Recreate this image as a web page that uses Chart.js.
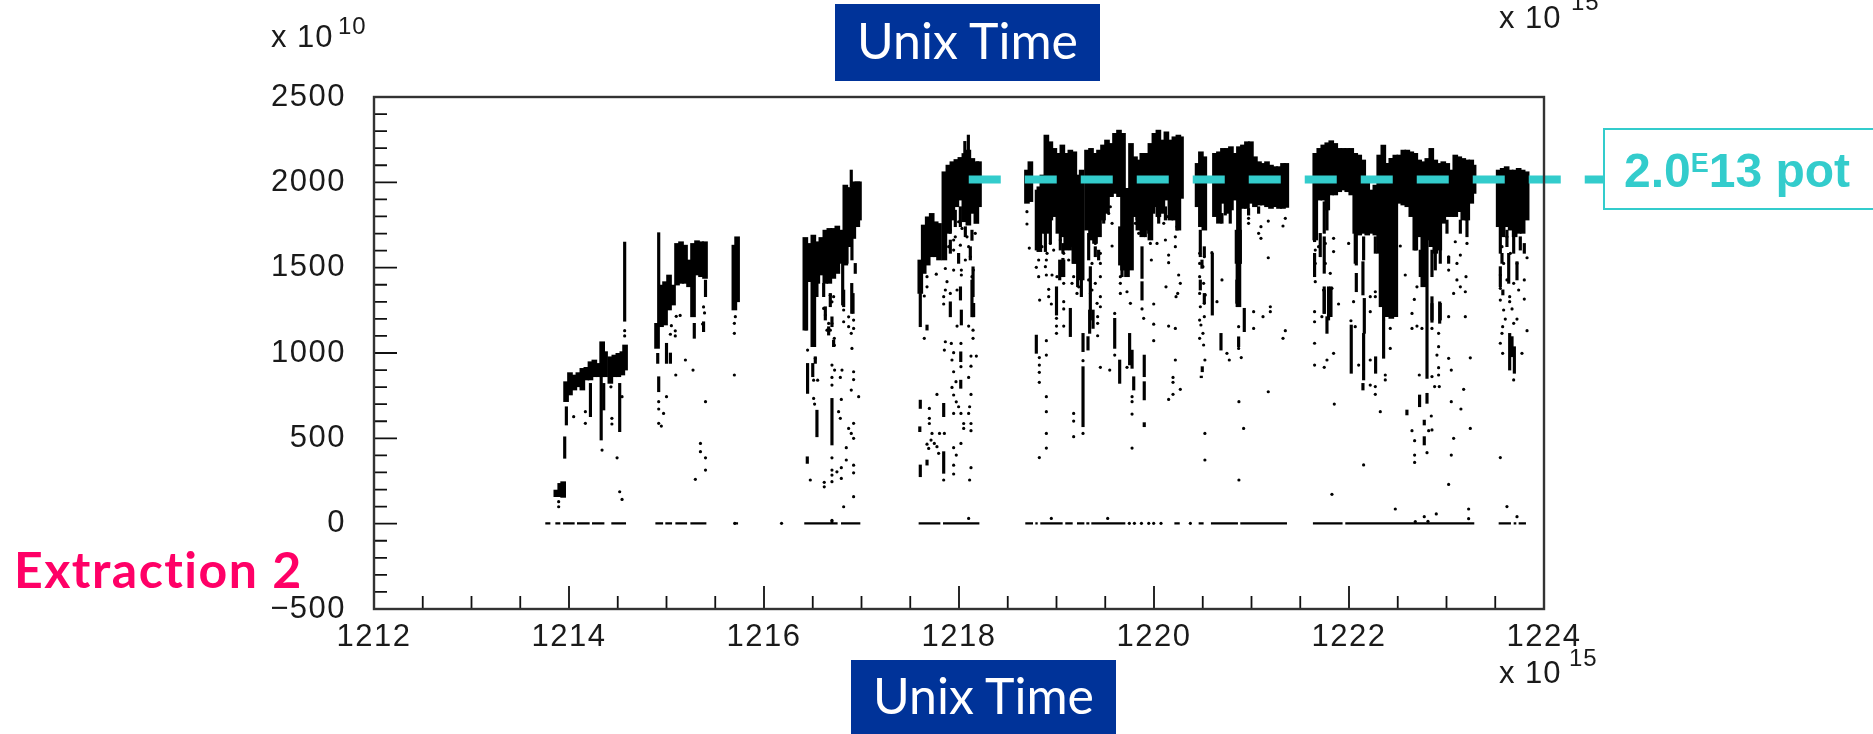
<!DOCTYPE html>
<html>
<head>
<meta charset="utf-8">
<title>Extraction 2</title>
<script src="https://cdn.jsdelivr.net/npm/chart.js@4"></script>
<style>
html, body { margin: 0; padding: 0; background: #fff; }
#page { position: relative; width: 1873px; height: 734px; overflow: hidden; }
#page canvas { position: absolute; left: 0; top: 0; }
.lbl { position: absolute; white-space: nowrap; line-height: 1; }
.power { font-family: "Liberation Sans", sans-serif; font-size: 31px; letter-spacing: 1px; color: #1a1a1a; }
.power sup { position: absolute; font-size: 24px; line-height: 1; vertical-align: baseline; }
.blue { position: absolute; background: #003399; color: #fff; font-family: Lato, sans-serif; font-size: 50px; text-align: center; }
#tag { position: absolute; left: 1603px; top: 128px; width: 268px; height: 78px; border: 2px solid #33cccc; background: #fff; color: #33cccc;
       font-family: "Liberation Sans", sans-serif; font-weight: bold; font-size: 48px; line-height: 82px; white-space: nowrap; }
#tag span { position: absolute; left: 19px; top: 0; }
#tag sup { font-size: 27px; line-height: 0; vertical-align: 15px; }
#extraction { left: 14px; top: 544px; color: #ff0066; font-family: Lato, sans-serif; font-weight: bold; font-size: 50px; letter-spacing: 1.5px; }
</style>
</head>
<body>
<div id="page">
  <canvas id="chart" width="1873" height="734"></canvas>
  <div class="blue" style="left:835px;top:4px;width:265px;height:77px;line-height:72px;">Unix Time</div>
  <div class="blue" style="left:851px;top:660px;width:265px;height:74px;line-height:70px;">Unix Time</div>
  <div class="lbl power" style="left:271px;top:21px;">x 10<sup style="left:67px;top:-7px;">10</sup></div>
  <div class="lbl power" style="left:1499px;top:2px;">x 10<sup style="left:72px;top:-12px;">15</sup></div>
  <div class="lbl power" style="left:1499px;top:657px;">x 10<sup style="left:70px;top:-11px;">15</sup></div>
  <div class="lbl" id="extraction">Extraction 2</div>
  <div id="tag"><span>2.0<sup>E</sup>13 pot</span></div>
</div>
<script>
// axis ticks
const xMajorTicks = [1212, 1214, 1216, 1218, 1220, 1222, 1224]
const xMinorTicks = [1212.5, 1213, 1213.5, 1214.5, 1215, 1215.5, 1216.5, 1217, 1217.5, 1218.5, 1219, 1219.5, 1220.5, 1221, 1221.5, 1222.5, 1223, 1223.5]
const yMajorTicks = [-500, 0, 500, 1000, 1500, 2000, 2500]
const yMinorTicks = [-400, -300, -200, -100, 100, 200, 300, 400, 600, 700, 800, 900, 1100, 1200, 1300, 1400, 1600, 1700, 1800, 1900, 2100, 2200, 2300, 2400]

// intensity reference line (x 10^15, x 10^10)
const potLevel = 2016
const potFrom = 1218.1
const potTo = 1224.63

// solid columns of the pulse intensity band: [time, low, high]
const blobA = [[1213.87,158,197],[1213.91,158,236],[1213.94,154,246],[1213.97,715,832],[1214.01,754,885],[1214.055,783,871],[1214.096,802,885],[1214.137,783,910],[1214.178,842,916],[1214.22,842,949],[1214.26,861,959],[1214.30,861,939],[1214.34,861,1066],[1214.37,861,1008],[1214.424,822,978],[1214.465,861,988],[1214.506,861,998],[1214.547,871,1008],[1214.575,900,1047]]
const blobB = [[1214.903,1027,1174],[1214.944,1154,1398],[1214.985,1164,1418],[1215.026,1252,1457],[1215.067,1281,1398],[1215.108,1398,1642],[1215.149,1408,1652],[1215.19,1408,1632],[1215.231,1388,1545],[1215.272,1212,1642],[1215.313,1457,1658],[1215.354,1447,1652],[1215.395,1437,1652]]
const blobC = [[1215.696,1252,1632],[1215.724,1300,1681]]
const blobD = [[1216.424,1134,1677],[1216.465,1418,1642],[1216.506,1037,1691],[1216.547,1408,1652],[1216.588,1457,1677],[1216.629,1408,1720],[1216.67,1408,1730],[1216.711,1437,1730],[1216.752,1466,1744],[1216.793,1525,1720],[1216.834,1515,1984],[1216.875,1623,1970],[1216.916,1671,2003],[1216.957,1740,2003],[1216.974,1779,2003]]
const blobE = [[1217.603,1349,1545],[1217.638,1466,1750],[1217.679,1515,1798],[1217.72,1564,1818],[1217.761,1564,1769],[1217.795,1545,1759],[1217.85,1545,2062],[1217.891,1701,2101],[1217.932,1779,2121],[1217.973,1857,2134],[1218.014,1896,2146],[1218.055,1769,2169],[1218.096,1749,2189],[1218.137,1818,2140],[1218.178,1759,2121],[1218.205,1857,2121]]
const blobF = [[1218.697,1877,2072],[1218.732,1887,2121],[1218.824,1594,1974],[1218.855,1701,2043],[1218.896,1701,2277],[1218.937,1779,2238],[1218.978,1799,2199],[1219.019,1701,2170],[1219.06,1681,2219],[1219.1,1603,2170],[1219.142,1623,2189],[1219.183,1525,2179],[1219.217,1525,2043],[1219.258,1428,2072],[1219.313,1720,2189],[1219.354,1662,2199],[1219.395,1642,2170],[1219.436,1681,2189],[1219.477,1779,2219],[1219.518,1818,2248],[1219.559,1916,2228],[1219.6,1935,2287],[1219.641,1916,2306],[1219.682,1486,2287],[1219.723,1447,1965],[1219.764,1486,2228],[1219.805,1799,2150],[1219.84,1720,2131],[1219.88,1681,2170],[1219.922,1720,2170],[1219.963,1662,2228],[1220.004,1857,2287],[1220.045,1799,2306],[1220.086,1818,2248],[1220.127,1896,2296],[1220.168,1779,2248],[1220.209,1779,2267],[1220.25,1720,2277],[1220.277,1906,2267]]
const blobG = [[1220.447,1857,2111],[1220.481,1740,2179],[1220.516,1720,2150],[1220.625,1799,2170],[1220.666,1760,2179],[1220.707,1877,2199],[1220.748,1818,2199],[1220.789,1838,2209],[1220.83,1896,2170],[1220.871,1525,2209],[1220.866,1271,1526],[1220.912,1847,2219],[1220.953,1847,2238],[1220.994,1877,2238],[1221.035,1857,2150],[1221.077,1867,2121],[1221.118,1867,2111],[1221.159,1857,2121],[1221.2,1847,2101],[1221.241,1857,2092],[1221.282,1847,2092],[1221.323,1847,2111],[1221.357,1853,2111]]
const blobH = [[1221.654,1662,2170],[1221.695,1896,2199],[1221.736,1896,2219],[1221.777,1838,2232],[1221.818,1926,2244],[1221.859,1926,2228],[1221.9,1945,2199],[1221.941,1955,2199],[1221.982,1945,2199],[1222.023,1926,2199],[1222.064,1701,2170],[1222.105,1691,2160],[1222.146,1701,2131],[1222.187,1691,1994],[1222.228,1701,1955],[1222.27,1691,1984],[1222.31,1584,2160],[1222.352,1271,2219],[1222.393,1213,2111],[1222.434,1203,2140],[1222.475,1213,2160],[1222.516,1877,2160],[1222.557,1867,2189],[1222.598,1857,2189],[1222.639,1799,2179],[1222.68,1603,2170],[1222.72,1681,2131],[1222.762,1388,2121],[1222.803,1662,2140],[1222.844,1623,2199],[1222.885,1584,2131],[1222.926,1603,2111],[1222.967,1760,2121],[1223.008,1799,2111],[1223.049,1799,2072],[1223.09,1799,2160],[1223.131,1828,2150],[1223.172,1779,2140],[1223.213,1779,2131],[1223.254,1877,2131],[1223.278,1935,2101]]
const blobI = [[1223.535,1740,2072],[1223.576,1681,2082],[1223.617,1740,2092],[1223.658,1720,2072],[1223.699,1681,2072],[1223.74,1701,2082],[1223.781,1701,2072],[1223.822,1779,2062]]

// thin vertical runs: [time, low, high]
const spikes = [[1213.956,383,509],[1213.973,578,685],[1214.33,490,861],[1214.356,666,822],[1214.22,627,822],[1214.52,539,822],[1214.571,1186,1650],[1214.92,1174,1705],[1214.91,939,998],[1214.92,773,861],[1215.0,939,1057],[1215.04,939,1000],[1215.285,1086,1174],[1215.38,1125,1183],[1215.4,1330,1427],
[1216.895,1974,2072],[1216.807,1281,1525],[1216.9,1232,1408],[1216.543,509,665],[1216.697,461,734],[1216.444,353,392],[1216.5,861,939],[1216.447,763,939],[1216.503,1037,1420],[1216.43,1134,1420],
[1218.096,2130,2277],[1218.06,2150,2240],[1217.603,1154,1349],[1218.024,1164,1252],[1218.015,1310,1388],[1217.911,1212,1300],[1218.133,1212,1427],[1217.843,627,705],[1217.843,295,422],[1217.603,675,724],[1217.603,275,344],[1217.598,539,568],[1217.672,1134,1164],[1218.018,949,1007],[1218.018,793,841],[1217.672,343,373],
[1218.793,1603,1955],[1218.793,998,1105],[1219.0,1222,1388],[1219.033,1428,1545],[1219.066,1480,1555],[1219.142,1096,1262],[1219.272,568,920],[1219.272,1008,1115],[1219.323,1017,1096],[1219.34,1115,1252],[1219.375,1144,1252],[1219.255,1330,1584],[1219.597,1027,1203],[1219.648,822,959],[1219.648,1515,1740],[1219.75,930,1115],[1219.775,910,1017],[1219.792,783,861],[1219.9,861,988],[1219.9,725,832],[1219.9,568,592],[1219.877,1437,1623],[1219.877,1310,1418],[1219.347,1193,1349],
[1220.598,1222,1584],[1220.687,1017,1115],[1220.926,1125,1262],[1220.868,1037,1095],[1220.844,1525,1720],[1220.885,1525,1720],[1220.85,1291,1428],[1220.495,890,920],[1220.485,855,865],
[1221.647,1652,1926],[1221.647,1447,1584],[1221.746,1232,1388],[1221.815,1213,1388],[1221.774,1115,1213],[1222.023,881,1164],[1222.075,1359,1467],[1222.075,1515,1720],[1222.143,1340,1535],[1222.157,1115,1320],[1222.15,842,1115],[1222.143,783,822],[1222.273,881,978],[1222.355,969,1193],[1222.355,1193,1447],[1222.8,851,1701],[1222.8,705,764],[1222.724,685,754],[1222.93,1174,1300],[1222.851,1180,1290],[1222.772,578,607],[1222.772,461,510],[1222.594,637,666],[1223.648,900,1115],[1223.696,881,1037],[1223.672,978,1096]]

// short dark runs in the speckled zones under the band: [time, low, high]
const shortRuns = [[1216.629,1193,1271],[1216.68,1271,1349],[1216.697,1154,1212],[1216.663,1105,1154],[1216.851,1525,1623],[1216.902,1545,1681],[1216.936,1466,1525],[1216.913,1232,1349],[1216.817,1271,1369],[1216.714,1037,1076],[1216.543,1330,1418],[1216.612,1330,1408],[1216.526,939,978],
[1217.911,1701,1779],[1217.962,1740,1837],[1218.014,1740,1857],[1218.065,1681,1740],[1218.116,1545,1623],[1218.144,1330,1505],[1218.15,1212,1291],[1217.911,1584,1662],[1217.996,1525,1584],[1218.133,1660,1720],
[1219.074,1447,1545],[1219.06,1447,1545],[1219.176,1662,1779],[1219.217,1388,1584],[1219.33,1545,1701],[1219.347,1349,1506],[1219.398,1564,1623],[1218.886,1594,1701],[1218.937,1642,1779],[1219.039,1603,1720],[1219.066,1584,1642],[1219.142,1603,1720],[1219.176,1525,1584],[1219.432,1545,1603],[1219.484,1760,1818],[1219.826,1779,1916],[1219.911,1681,1838],[1219.997,1818,1916],[1220.117,1779,1857],[1220.236,1720,1779],[1220.048,1760,1818],[1219.946,1701,1857],[1219.672,1447,1584],
[1220.475,1564,1720],[1220.492,1496,1545],[1220.516,1564,1623],[1220.475,1369,1428],[1220.516,1291,1349],[1220.731,1808,1877],[1220.782,1760,1838],[1220.697,1760,1818],[1220.97,1808,1847],[1221.073,1818,1857],
[1221.664,1720,1896],[1221.746,1701,1886],[1221.705,1564,1701],[1221.746,1467,1681],[1221.746,1232,1369],[1221.79,1193,1388],[1221.774,1720,1847],[1222.064,1525,1701],[1222.15,1545,1681],[1222.321,1271,1584],[1222.27,1584,1681],[1222.68,1603,1799],[1222.851,1447,1603],[1222.885,1486,1584],[1222.936,1525,1603],[1223.005,1701,1779],[1223.142,1701,1779],[1223.21,1681,1779],[1223.022,1525,1564],[1222.731,1447,1603],[1222.851,1193,1330],[1222.936,1193,1291],
[1223.552,1584,1740],[1223.62,1623,1720],[1223.689,1584,1681],[1223.757,1603,1681],[1223.569,1525,1584],[1223.638,1408,1584],[1223.552,1388,1506],[1223.723,1428,1535],[1223.578,1340,1370],[1223.798,1584,1642]]

// isolated pulses: [time, intensity]
const dotsEarly = [[1214.571,1131],[1214.571,1100],[1215.194,959],[1215.272,900],[1215.095,871],[1215.0,744],[1214.92,715],[1214.92,672],[1214.97,646],[1214.92,588],[1214.947,572],[1215.4,715],[1215.348,470],[1215.348,422],[1215.4,386],[1215.4,314],[1215.296,260],[1215.696,1115],[1215.696,871],[1215.706,1213],[1215.696,1174],[1214.493,386],[1214.52,187],[1214.544,142],[1213.894,129],[1213.894,99],[1214.168,656],[1214.168,588],[1214.048,627],[1214.339,431],[1214.44,617],[1214.44,584],[1214.43,802],[1214.544,744],[1215.05,1160],[1215.1,1215],[1215.14,1220],[1215.09,1130],[1215.04,1110],[1215.09,1100],[1215.38,1270],[1215.39,1235],[1215.37,1170]]
const dotsD = [[1216.612,1261],[1216.629,1222],[1216.68,1339],[1216.697,1300],[1216.714,1330],[1216.663,1173],[1216.697,1173],[1216.646,1134],[1216.68,1134],[1216.721,1086],[1216.721,1046],[1216.817,1252],[1216.817,1183],[1216.868,1212],[1216.919,1193],[1216.868,1154],[1216.919,1144],[1216.895,1115],[1216.902,1027],[1216.447,1017],[1216.526,968],[1216.697,929],[1216.724,900],[1216.8,900],[1216.697,857],[1216.783,857],[1216.919,890],[1216.919,844],[1216.509,841],[1216.55,841],[1216.697,812],[1216.895,783],[1216.971,744],[1216.793,728],[1216.509,734],[1216.519,701],[1216.765,656],[1216.783,617],[1216.919,588],[1216.868,558],[1216.919,500],[1216.895,529],[1216.844,445],[1216.697,386],[1216.844,373],[1216.919,343],[1216.697,314],[1216.748,304],[1216.793,328],[1216.697,285],[1216.793,265],[1216.919,298],[1216.475,256],[1216.618,242],[1216.618,216],[1216.697,246],[1216.919,158],[1216.817,99],[1216.697,11]]
const dotsE = [[1217.644,1086],[1217.843,1330],[1217.843,1287],[1217.86,1066],[1217.85,1017],[1217.921,1056],[1218.02,1056],[1217.945,1002],[1217.928,959],[1217.945,890],[1218.02,920],[1218.123,982],[1218.178,982],[1218.123,923],[1218.099,857],[1217.969,832],[1217.928,798],[1217.945,754],[1217.774,757],[1218.123,757],[1217.972,714],[1217.996,685],[1218.109,685],[1217.945,646],[1218.02,646],[1218.099,646],[1217.696,675],[1217.696,617],[1217.696,587],[1218.048,587],[1218.123,587],[1218.048,558],[1218.123,545],[1217.723,529],[1217.8,529],[1217.85,529],[1218.02,470],[1217.945,445],[1217.972,402],[1217.945,343],[1217.945,291],[1218.123,328],[1218.109,256],[1217.843,256],[1217.767,1462],[1217.672,1447],[1217.672,1388],[1217.644,1334],[1217.877,1418],[1217.945,1486],[1218.024,1486],[1218.024,1457],[1217.86,1495],[1217.98,1369],[1217.911,1349],[1217.86,1369],[1218.144,1134],[1218.144,1086],[1218.099,1158],[1217.98,1158],[1217.672,466],[1217.713,490],[1217.747,470],[1217.774,451],[1217.689,441],[1217.791,412],[1217.911,1720],[1217.962,1681],[1217.996,1769],[1218.031,1730],[1217.894,1623],[1217.945,1603],[1218.014,1632],[1218.099,1623],[1218.116,1564],[1218.065,1545],[1218.147,1486],[1218.133,1447],[1218.167,1701],[1217.945,1662],[1218.082,1681]]
const dotsF = [[1218.697,1828],[1218.697,1756],[1218.721,1615],[1218.793,1502],[1218.817,1545],[1218.896,1545],[1218.817,1447],[1218.896,1457],[1218.954,1457],[1218.92,1373],[1218.92,1330],[1218.827,1310],[1218.947,1287],[1219.074,1301],[1219.074,1258],[1219,1203],[1219,1158],[1219,1115],[1219.074,1158],[1218.896,1072],[1218.896,988],[1218.824,973],[1218.824,929],[1218.824,887],[1218.824,828],[1218.896,744],[1218.896,656],[1218.896,529],[1218.896,443],[1218.824,387],[1219.176,646],[1219.176,601],[1219.176,510],[1219.272,529],[1219.272,955],[1219.45,916],[1219.546,900],[1219.422,1101],[1219.57,1627],[1219.597,1232],[1219.597,988],[1219.723,916],[1219.775,744],[1219.775,715],[1219.775,642],[1219.775,443],[1219.997,1287],[1219.894,1203],[1219.877,1258],[1219.997,1169],[1219.997,1072],[1220.15,1158],[1220.219,1144],[1220.219,959],[1220.195,857],[1220.195,828],[1220.195,758],[1220.27,787],[1220.15,728],[1220.123,1388],[1220.226,1330],[1220.243,1349],[1220.27,1408],[1220.253,1457],[1219.973,1545],[1220.15,1574],[1220.15,1529],
[1218.851,1623],[1218.903,1584],[1218.937,1642],[1218.971,1603],[1218.886,1506],[1219.039,1662],[1219.074,1584],[1219.125,1545],[1219.176,1545],[1219.228,1506],[1219.176,1447],[1219.228,1388],[1219.21,1349],[1219.159,1408],[1219.074,1408],[1219.005,1447],[1219.347,1681],[1219.398,1642],[1219.45,1584],[1219.364,1525],[1219.45,1525],[1219.33,1428],[1219.398,1408],[1219.45,1447],[1219.364,1369],[1219.45,1330],[1219.416,1291],[1219.45,1271],[1219.422,1213],[1219.422,1174],[1219.552,1857],[1219.535,1818],[1219.57,1760],[1219.655,1447],[1219.655,1408],[1219.655,1349],[1219.723,1359],[1219.758,1291],[1219.826,1896],[1219.826,1818],[1219.809,1760],[1219.843,1701],[1219.929,1838],[1219.997,1896],[1220.048,1799],[1220.1,1760],[1220.134,1799],[1220.219,1799],[1220.236,1740],[1220.219,1681],[1220.219,1623],[1220.117,1662],[1220.031,1642],[1219.963,1642]]
const dotsG = [[1220.522,959],[1220.697,1428],[1220.646,1301],[1220.594,1588],[1220.748,998],[1220.772,959],[1220.895,973],[1220.868,1027],[1220.868,1154],[1221.022,1242],[1221.022,1144],[1221.118,1213],[1221.193,1271],[1221.193,1242],[1221.172,1558],[1221.097,1740],[1221.073,1701],[1221.097,1672],[1220.97,1789],[1220.97,1760],[1221.172,1773],[1221.347,1789],[1221.323,1744],[1221.323,1086],[1221.347,1131],[1221.172,773],[1220.871,715],[1220.919,558],[1220.522,529],[1220.522,373],[1220.871,256],[1220.468,1584],[1220.516,1564],[1220.468,1525],[1220.502,1506],[1220.468,1447],[1220.509,1408],[1220.468,1349],[1220.526,1340],[1220.475,1271],[1220.516,1291],[1220.468,1193],[1220.516,1213],[1220.481,1164],[1220.502,1115],[1220.468,1086],[1220.509,1047]]
const dotsH = [[1221.654,1603],[1221.688,1623],[1221.757,1642],[1221.654,1525],[1221.757,1525],[1221.808,1467],[1221.654,1418],[1221.739,1369],[1221.825,1379],[1221.647,1242],[1221.647,1183],[1221.722,1213],[1221.893,1287],[1222.047,1301],[1221.842,1672],[1221.842,1594],[1221.842,998],[1221.746,916],[1221.647,929],[1221.774,959],[1221.647,1057],[1221.849,701],[1222.02,1189],[1221.996,1642],[1222.064,1154],[1222.099,929],[1222.218,1242],[1222.218,1330],[1222.27,1359],[1222.27,1330],[1222.321,656],[1222.218,959],[1222.218,812],[1222.27,803],[1222.27,758],[1222.15,344],[1221.825,172],[1222.475,86],[1222.423,1144],[1222.423,1027],[1222.372,842],[1222.372,871],[1222.526,1627],[1222.577,1457],[1222.646,1232],[1222.646,1144],[1222.697,1158],[1222.748,1144],[1222.67,1314],[1222.697,1388],[1222.851,1144],[1222.902,988],[1222.919,1115],[1222.919,1037],[1222.721,871],[1222.851,862],[1222.919,914],[1222.919,871],[1223.022,969],[1223.049,900],[1223.244,972],[1223.193,1213],[1223.022,1213],[1223.073,1349],[1223.142,1388],[1223.193,1359],[1223.2,1447],[1223.107,1428],[1223.022,1486],[1223.022,1564],[1223.107,1525],[1223.142,1574],[1223.21,1642],[1223.09,1652],[1222.851,549],[1222.817,545],[1222.646,545],[1222.673,486],[1222.8,416],[1222.673,402],[1222.673,359],[1223.049,402],[1223.073,500],[1223.244,558],[1223.148,672],[1223.049,715],[1222.844,631],[1222.878,803],[1222.926,803],[1223.176,787],[1223.022,230],[1222.772,41],[1222.895,57],[1223.227,86],[1223.227,29]]
const dotsI = [[1223.552,387],[1223.62,100],[1223.723,41],[1223.552,1057],[1223.576,998],[1223.774,998],[1223.826,1131],[1223.723,1199],[1223.672,1258],[1223.603,1199],[1223.576,1154],[1223.798,1316],[1223.826,1558],[1223.798,1428],[1223.552,1310],[1223.648,1330],[1223.648,1301],[1223.586,1252],[1223.689,1174],[1223.569,1115],[1223.689,842],[1223.552,1457],[1223.62,1428],[1223.689,1408],[1223.74,1369],[1223.552,1379],[1223.569,1623],[1223.655,1584],[1223.723,1525],[1223.586,1525],[1223.62,1681]]
const dotsZero = [[1215.70,2],[1216.18,2],[1219.747,2],[1219.799,2],[1219.871,2],[1219.946,2],[1219.997,2],[1220.072,2],[1220.373,2],[1218.947,31],[1219.525,31],[1216.697,20],[1218.099,31],[1222.68,12],[1222.81,14]]

// pieces of the zero line: [from, to]
const zeroRuns = [[1213.757,1213.809],[1213.86,1213.911],[1213.939,1214.058],[1214.082,1214.212],[1214.236,1214.363],[1214.434,1214.585],[1214.886,1214.965],[1214.988,1215.057],[1215.091,1215.211],[1215.245,1215.409],[1215.69,1215.734],[1216.413,1216.755],[1216.79,1216.988],[1217.586,1217.809],[1217.836,1218.209],[1218.68,1218.759],[1218.783,1218.807],[1218.834,1219.063],[1219.09,1219.166],[1219.21,1219.286],[1219.306,1219.337],[1219.357,1219.706],[1220.209,1220.264],[1220.458,1220.509],[1220.584,1220.861],[1220.885,1221.364],[1221.63,1221.934],[1221.962,1223.285],[1223.535,1223.661],[1223.689,1223.716],[1223.74,1223.815]]
const zeroLevel = 2

const blobs = [].concat(blobA, blobB, blobC, blobD, blobE, blobF, blobG, blobH, blobI)
const thinRuns = spikes.concat(shortRuns)
const dots = [].concat(dotsEarly, dotsD, dotsE, dotsF, dotsG, dotsH, dotsI, dotsZero)

function toBars (list) {
    return list.map(function (c) { return {x: c[0], y: [c[1], c[2]]} })
}

var zeroLine = []
zeroRuns.forEach(function (r) {
    zeroLine.push({x: r[0], y: zeroLevel}, {x: r[1], y: zeroLevel}, {x: r[1], y: null})
})

// inward ticks and frame, PAW style
const frame = {
    id: 'frame',
    beforeDraw: function (chart) { chart.ctx.letterSpacing = '1.5px' },
    afterDatasetsDraw: function (chart) {
        const ctx = chart.ctx, a = chart.chartArea, sx = chart.scales.x, sy = chart.scales.y
        ctx.save()
        ctx.strokeStyle = '#111'
        ctx.lineWidth = 1.8
        ctx.beginPath()
        xMajorTicks.forEach(function (v) { var p = sx.getPixelForValue(v); ctx.moveTo(p, a.bottom); ctx.lineTo(p, a.bottom - 23) })
        xMinorTicks.forEach(function (v) { var p = sx.getPixelForValue(v); ctx.moveTo(p, a.bottom); ctx.lineTo(p, a.bottom - 13) })
        yMajorTicks.forEach(function (v) { var p = sy.getPixelForValue(v); ctx.moveTo(a.left, p); ctx.lineTo(a.left + 23, p) })
        yMinorTicks.forEach(function (v) { var p = sy.getPixelForValue(v); ctx.moveTo(a.left, p); ctx.lineTo(a.left + 13, p) })
        ctx.stroke()
        ctx.strokeStyle = '#333'
        ctx.lineWidth = 2.4
        ctx.strokeRect(a.left, a.top, a.right - a.left, a.bottom - a.top)
        ctx.restore()
    }
}

const tickFont = {family: '"Liberation Sans", sans-serif', size: 31}

new Chart(document.getElementById('chart'), {
    type: 'bar',
    plugins: [frame],
    data: {
        datasets: [
            {type: 'scatter', data: [{x: potFrom, y: potLevel}, {x: potTo, y: potLevel}], showLine: true, borderColor: '#33cccc', borderWidth: 8, borderDash: [32, 24], pointRadius: 0, clip: false, order: 0},
            {type: 'bar', data: toBars(blobs), backgroundColor: '#000', barThickness: 5, grouped: false, order: 4},
            {type: 'bar', data: toBars(thinRuns), backgroundColor: '#000', barThickness: 2.5, grouped: false, order: 3},
            {type: 'scatter', data: dots, backgroundColor: '#000', borderWidth: 0, pointRadius: 1.6, order: 2},
            {type: 'scatter', data: zeroLine, showLine: true, spanGaps: false, borderColor: '#000', borderWidth: 2.4, pointRadius: 0, order: 1}
        ]
    },
    options: {
        responsive: false,
        animation: false,
        layout: {padding: {top: 97, right: 329, left: 0, bottom: 0}},
        plugins: {legend: {display: false}, tooltip: {enabled: false}, title: {display: false}},
        scales: {
            x: {
                type: 'linear', min: 1212, max: 1224, offset: false,
                grid: {display: false}, border: {display: false},
                afterBuildTicks: function (s) { s.ticks = xMajorTicks.map(function (v) { return {value: v} }) },
                afterFit: function (s) { s.height = 125 },
                ticks: {font: tickFont, color: '#1a1a1a', padding: 2, maxRotation: 0, autoSkip: false, callback: function (v) { return String(v) }}
            },
            y: {
                type: 'linear', min: -500, max: 2500,
                grid: {display: false}, border: {display: false},
                afterBuildTicks: function (s) { s.ticks = yMajorTicks.map(function (v) { return {value: v} }) },
                afterFit: function (s) { s.width = 374 },
                ticks: {font: tickFont, color: '#1a1a1a', padding: 20, autoSkip: false, callback: function (v) { return String(v).replace('-', '\u2212') }}
            }
        }
    }
})
</script>
</body>
</html>
